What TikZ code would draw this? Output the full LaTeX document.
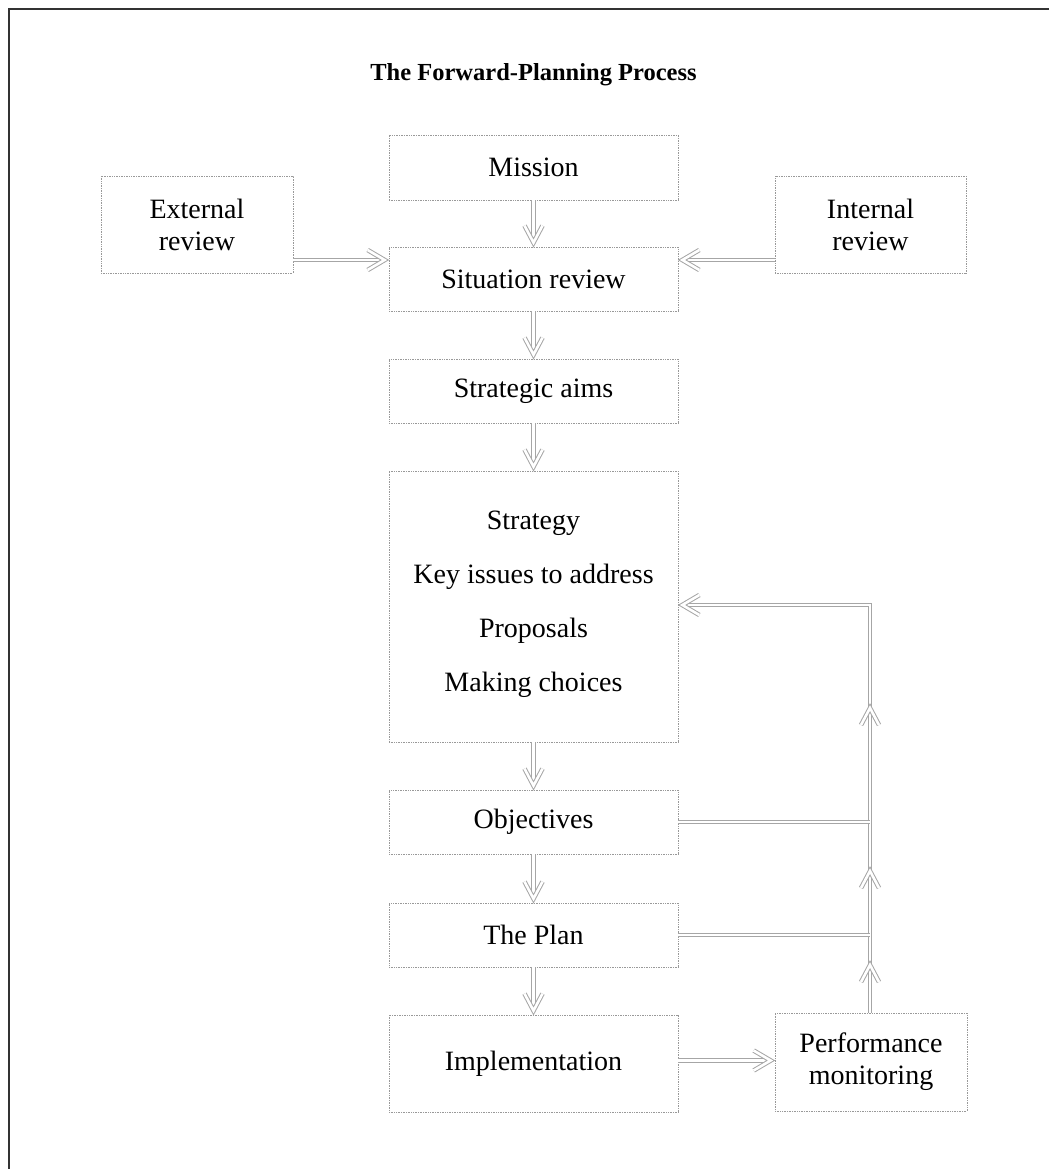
\documentclass[tikz,border=0pt]{standalone}
\usepackage{fontspec}
\setmainfont{Liberation Serif}
\begin{document}
\begin{tikzpicture}[x=1pt,y=-1pt,
  box/.style={draw=gray!80, densely dotted, line width=0.7pt, inner sep=0pt, align=center,
    font=\fontsize{28}{32}\selectfont, text=black},
  mainbox/.style={box, minimum width=289pt, minimum height=64pt},
  sidebox/.style={box, minimum width=192pt, minimum height=97pt},
  dblline/.style={draw=gray!70, double=white, double distance=2.6pt, line width=1pt, line join=miter},
  frame/.style={draw=black!80, line width=2pt},
  pics/chevD/.style={code={\draw[dblline] (-9,-17) -- (0,0) -- (9,-17);}},
  pics/chevU/.style={code={\draw[dblline] (-9,17) -- (0,0) -- (9,17);}},
  pics/chevR/.style={code={\draw[dblline] (-17,-10) -- (0,0) -- (-17,10);}},
  pics/chevL/.style={code={\draw[dblline] (17,-10) -- (0,0) -- (17,10);}}]
\useasboundingbox (0,0) rectangle (1049,1169);
% frame (top and left edges)
\coordinate (ftr) at (1049,9.5);
\coordinate (ftl) at (9,9.5);
\coordinate (fbl) at (9,1169);
\draw[frame] (ftr) -- (ftl) -- (fbl);
% title
\node[font=\bfseries\fontsize{24.5}{29}\selectfont] (title) at (533.5,75) {The Forward-Planning Process};
% main column
\node[mainbox, minimum height=65pt] (mission) at (533.5,167.5) {Mission};
\node[mainbox] (sit) at (533.5,279) {Situation review};
\node[mainbox] (aims) at (533.5,391) {Strategic aims};
\node[box, minimum width=289pt, minimum height=271pt] (strat) at (533.5,606.5) {};
\node[align=center, inner sep=0pt, font=\fontsize{28}{32}\selectfont] (strattext) at (533.5,604)
  {Strategy\\[22pt]Key issues to address\\[22pt]Proposals\\[22pt]Making choices};
\node[mainbox] (obj) at (533.5,822) {Objectives};
\node[mainbox] (plan) at (533.5,935) {The Plan};
\node[mainbox, minimum height=97pt] (impl) at (533.5,1063.5) {Implementation};
% side boxes
\node[sidebox] (ext) at (197,224.5) {External\\review};
\node[sidebox, minimum width=191pt] (int) at (870.5,224.5) {Internal\\review};
\node[sidebox, minimum height=98pt] (perf) at (871,1062) {Performance\\monitoring};
% vertical arrows (tip 4px before the box)
\path (sit.north) ++(0,-4) coordinate (t1);
\path (aims.north) ++(0,-4) coordinate (t2);
\path (strat.north) ++(0,-4) coordinate (t3);
\path (obj.north) ++(0,-4) coordinate (t4);
\path (plan.north) ++(0,-4) coordinate (t5);
\path (impl.north) ++(0,-4) coordinate (t6);
\draw[dblline] (mission.south) -- (t1);
\draw[dblline] (sit.south) -- (t2);
\draw[dblline] (aims.south) -- (t3);
\draw[dblline] (strat.south) -- (t4);
\draw[dblline] (obj.south) -- (t5);
\draw[dblline] (plan.south) -- (t6);
\foreach \t in {t1,t2,t3,t4,t5,t6} \pic at (\t) {chevD};
% review arrows
\path (ext.east) ++(0,35.5) coordinate (extout);
\path (sit.west |- extout) ++(-4,0) coordinate (sitinl);
\path (int.west |- extout) coordinate (intout);
\path (sit.east |- extout) ++(4,0) coordinate (sitinr);
\draw[dblline] (extout) -- (sitinl);
\draw[dblline] (intout) -- (sitinr);
\pic at (sitinl) {chevR};
\pic at (sitinr) {chevL};
% implementation to performance
\path (impl.east) ++(0,-3) coordinate (implout);
\path (perf.west |- implout) ++(-4,0) coordinate (perfin);
\draw[dblline] (implout) -- (perfin);
\pic at (perfin) {chevR};
% feedback loop
\coordinate (fbtop) at (870,605);
\path (strat.east |- fbtop) ++(4,0) coordinate (stratin);
\coordinate (planj) at (870,935);
\coordinate (objj) at (870,822);
\coordinate (a1) at (870,965);
\coordinate (a2) at (870,871);
\coordinate (a3) at (870,708);
\path (perf.north -| planj) coordinate (perftop);
\draw[dblline] (perftop) -- (fbtop) -- (stratin);
\draw[dblline] (plan.east) -- (planj);
\draw[dblline] (obj.east) -- (objj);
\pic at (stratin) {chevL};
\pic at (a1) {chevU};
\pic at (a2) {chevU};
\pic at (a3) {chevU};
\end{tikzpicture}
\end{document}
